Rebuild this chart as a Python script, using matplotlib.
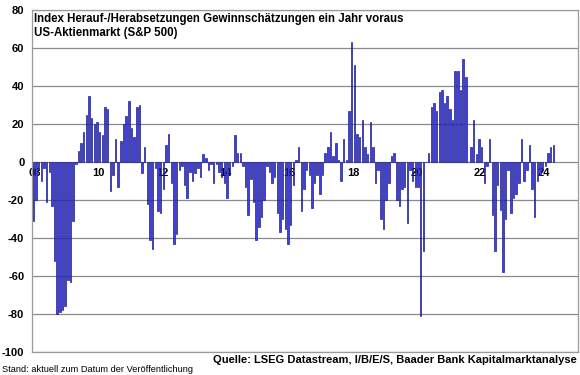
import matplotlib
matplotlib.use("Agg")
import matplotlib.pyplot as plt
import matplotlib.transforms as mtransforms
import numpy as np

# Monthly values, Jan 2008 .. May 2024
y2008 = [-31, -20, -3, -10, -3, -21, -5, -23, -52, -80, -79, -78]
y2009 = [-76, -62, -63, -31, -1, 6, 10, 16, 25, 35, 23, 20]
y2010 = [21, 16, 14, 29, 28, -15, -7, 12, -13, 11, 20, 24]
y2011 = [32, 18, 13, 29, 30, -6, 8, -22, -41, -46, -3, -26]
y2012 = [-27, -14, 9, 15, -11, -43, -38, -4, -2, -12, -19, -5]
y2013 = [-10, -6, -3, -8, 4, 2, -4, -1, -11, -1, -5, -8]
y2014 = [-11, -19, -7, -2, 14, 5, 5, -2, -13, -28, -9, -21]
y2015 = [-41, -34, -29, -20, -2, -5, -11, -8, -27, -37, -30, -35]
y2016 = [-43, -33, -12, 1, 8, -26, -14, -4, -7, -24, -11, -7]
y2017 = [-17, -7, 5, 8, 16, 3, 10, 1, -10, 12, 1, 27]
y2018 = [63, 51, 15, 13, 22, 8, 4, 21, 8, -11, -4, -30]
y2019 = [-35, -20, -11, 3, 5, -20, -23, -14, -13, -32, -4, -10]
y2020 = [-13, -13, -81, -47, 0, 5, 29, 31, 27, 37, 38, 31]
y2021 = [35, 28, 22, 48, 48, 38, 54, 45, 0, 8, 22, 4]
y2022 = [12, 8, -11, -2, 12, -28, -47, -12, -25, -58, -30, -4]
y2023 = [-27, -19, -17, -11, 12, -10, -4, 9, -14, -29, -10, -7]
y2024 = [-4, -2, 5, 8, 9]

values = (y2008 + y2009 + y2010 + y2011 + y2012 + y2013 + y2014 + y2015 +
          y2016 + y2017 + y2018 + y2019 + y2020 + y2021 + y2022 + y2023 + y2024)

year_labels = ["08", "10", "12", "14", "16", "18", "20", "22", "24"]
year_label_pos = [0, 24, 48, 72, 96, 120, 144, 168, 192]  # month index of January
y_ticks = [80, 60, 40, 20, 0, -20, -40, -60, -80, -100]

title_lines = ["Index Herauf-/Herabsetzungen Gewinnschätzungen ein Jahr voraus",
               "US-Aktienmarkt (S&P 500)"]
source_text = "Quelle: LSEG Datastream, I/B/E/S, Baader Bank Kapitalmarktanalyse"
stand_text = "Stand: aktuell zum Datum der Veröffentlichung"

plt.rcParams['font.family'] = ['Liberation Sans', 'DejaVu Sans']

W, H = 580, 375
fig = plt.figure(figsize=(W / 100, H / 100), dpi=100)
fig.patch.set_facecolor("white")
ax = fig.add_axes([32 / W, 1 - 352 / H, 546 / W, 342 / H])

x = np.arange(len(values))
ax.bar(x, values, width=0.55, color="#4040e0", edgecolor="#12128c",
       linewidth=0.45, zorder=3)

ax.set_xlim(-0.5, 205.3)
ax.set_ylim(-100, 80)
ax.set_yticks(y_ticks)
ax.set_yticklabels([str(t) for t in y_ticks], fontsize=8, fontweight="bold")
ax.tick_params(axis="y", length=0, pad=5.5)
ax.set_xticks([])
for t in y_ticks:
    ax.axhline(t, color="#8a8a8a", linewidth=0.9, zorder=1)
for s in ax.spines.values():
    s.set_color("#9a9a9a")
    s.set_linewidth(0.9)

offset = mtransforms.offset_copy(ax.transData, fig=fig, x=0, y=-4, units="points")
for lab, pos in zip(year_labels, year_label_pos):
    ax.text(pos + 0.5, 0, lab, transform=offset, ha="center", va="top",
            fontsize=8, fontweight="bold", zorder=2)

ax.text(2 / 546, 1 - 3 / 342, title_lines[0] + "\n" + title_lines[1],
        transform=ax.transAxes, ha="left", va="top", fontsize=8.3,
        fontweight="bold", linespacing=1.2, zorder=4)

fig.text(213 / W, 1 - 360 / H, source_text, ha="left", va="center",
         fontsize=8, fontweight="bold")
fig.text(2 / W, 1 - 369 / H, stand_text, ha="left", va="center",
         fontsize=6.7)

fig.savefig("out.png", dpi=100, facecolor="white")
